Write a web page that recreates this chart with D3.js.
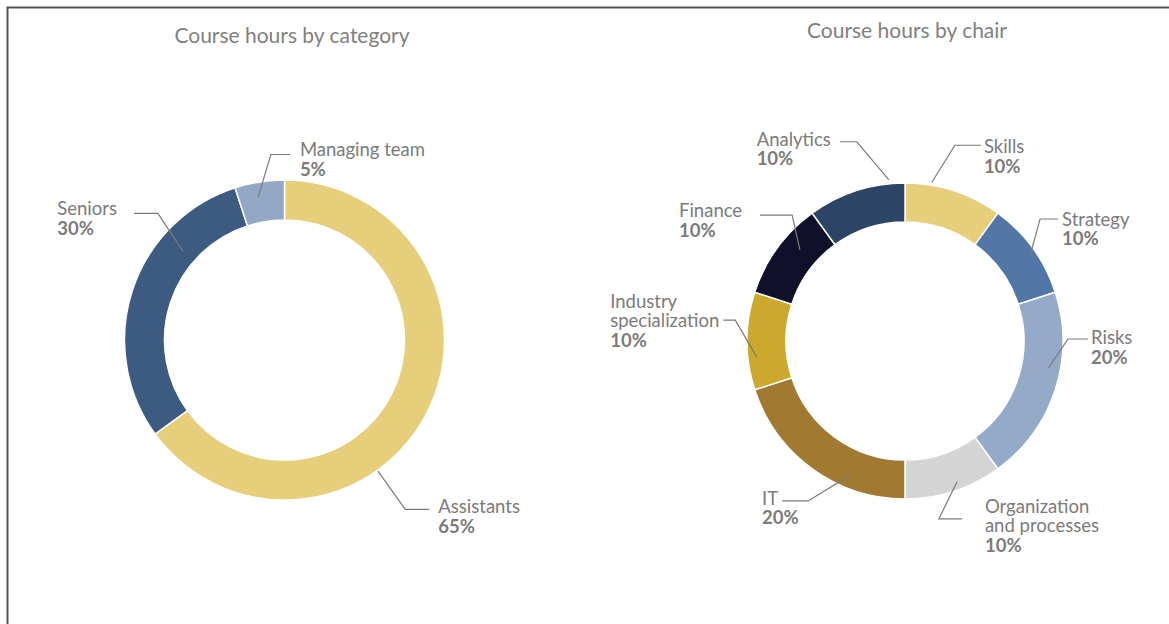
<!DOCTYPE html>
<html>
<head>
<meta charset="utf-8">
<script src="https://cdn.jsdelivr.net/npm/d3@7"></script>
<style>
  body { margin: 0; background: #fff; }
  svg { display: block; font-family: Lato, "Open Sans", sans-serif; }
</style>
</head>
<body>
<svg id="chart" width="1169" height="624"></svg>
<script>
// data
const categoryNames = ["Assistants", "Seniors", "Managing team"];
const categoryShares = [65, 30, 5];
const categoryColors = ["#e6ce7a", "#3d5a80", "#93a8c5"];

const chairNames = ["Skills", "Strategy", "Risks", "Organization\nand processes", "IT",
    "Industry\nspecialization", "Finance", "Analytics"];
const chairShares = [10, 10, 20, 10, 20, 10, 10, 10];
const chairColors = ["#e6ce7a", "#5277a6", "#94aac8", "#d4d4d4", "#a27930",
    "#cca82c", "#10102a", "#2c4566"];

// leader line placement (degrees relative to slice middle, radii in px)
const categoryLabels = [
    {da: 27.5, r0: 161, ea: 27.5, r1: 208, len: 24, gap: 9, dy: 4, attach: 0, side: 1},
    {da: 23.2, r0: 135, ea: 27, r1: 179, len: 24, gap: 17, dy: 2, attach: 0, side: -1},
    {da: -1.5, r0: 145, ea: 4.8, r1: 186, len: 19, gap: 10, dy: 2, attach: 0, side: 1}
];
const chairLabels = [
    {da: -8.4, r0: 161, ea: -3.7, r1: 202, len: 26, gap: 3, dy: 8, attach: 0, side: 1},
    {da: 1.8, r0: 151, ea: -6.1, r1: 182, len: 18, gap: 4, dy: 7, attach: 0, side: 1},
    {da: -7.4, r0: 146, ea: -18.7, r1: 163, len: 20, gap: 3, dy: 5, attach: 0, side: 1},
    {da: -2.3, r0: 150, ea: 7.2, r1: 181, len: 23, gap: 23, dy: -6, attach: 0, side: 1},
    {da: -13.5, r0: 146, ea: -4.8, r1: 187, len: 26, gap: 4, dy: 4, attach: 0, side: -1},
    {da: -6.2, r0: 149, ea: 7, r1: 171, len: 12, gap: 4, dy: 7, attach: 1, side: -1},
    {da: 4.9, r0: 139, ea: 12.1, r1: 169, len: 32, gap: 18, dy: 2, attach: 0, side: -1},
    {da: 12.3, r0: 162, ea: 4.4, r1: 205, len: 17, gap: 9, dy: 4, attach: 0, side: -1}
];

const textColor = "#7b7b7b";
const lineHeight = 19.5;

const svg = d3.select("#chart");

// frame: top and left edges only
svg.append("path")
    .attr("d", "M7.5,624V7.5H1169")
    .attr("fill", "none")
    .attr("stroke", "#555")
    .attr("stroke-width", 2);

function polar(cx, cy, deg, r) {
    const a = deg * Math.PI / 180;
    return [cx + r * Math.sin(a), cy - r * Math.cos(a)];
}

function drawDonut(opts) {
    const {cx, cy, rIn, rOut, names, values, colors, labels, title, titleX, titleY} = opts;
    const g = svg.append("g");

    g.append("text")
        .attr("x", titleX)
        .attr("y", titleY)
        .attr("text-anchor", "middle")
        .attr("font-size", 21)
        .attr("fill", "#808080")
        .text(title);

    const total = d3.sum(values);
    const pie = d3.pie().sort(null).value(d => d);
    const arcs = pie(values);
    const arc = d3.arc().innerRadius(rIn).outerRadius(rOut);

    g.append("g")
        .attr("transform", `translate(${cx},${cy})`)
        .selectAll("path")
        .data(arcs)
        .join("path")
        .attr("d", arc)
        .attr("fill", (d, i) => colors[i])
        .attr("stroke", "#fff")
        .attr("stroke-width", 1.5);

    arcs.forEach((d, i) => {
        const L = labels[i];
        const mid = (d.startAngle + d.endAngle) / 2 * 180 / Math.PI;
        const p0 = polar(cx, cy, mid + L.da, L.r0);
        const p1 = polar(cx, cy, mid + L.ea, L.r1);
        const p2 = [p1[0] + L.side * L.len, p1[1]];

        g.append("path")
            .attr("d", d3.line()([p0, p1, p2]))
            .attr("fill", "none")
            .attr("stroke", "#7a7a7a")
            .attr("stroke-width", 1.2);

        const lines = names[i].split("\n");
        const pct = Math.round(d.value / total * 100) + "%";
        const t = g.append("text")
            .attr("font-size", 18.5)
            .attr("fill", textColor);
        lines.forEach((s, k) => {
            t.append("tspan").attr("x", 0).attr("y", k * lineHeight).text(s);
        });
        t.append("tspan")
            .attr("x", 0)
            .attr("y", lines.length * lineHeight)
            .attr("font-weight", "bold")
            .text(pct);

        const attachW = t.selectAll("tspan").nodes()[L.attach].getComputedTextLength();
        const tx = L.side > 0 ? p2[0] + L.gap : p2[0] - L.gap - attachW;
        const ty = p2[1] + L.dy - L.attach * lineHeight;
        t.attr("transform", `translate(${tx},${ty})`);
    });
}

drawDonut({
    cx: 284.5, cy: 340, rIn: 120, rOut: 160,
    names: categoryNames, values: categoryShares, colors: categoryColors,
    labels: categoryLabels,
    title: "Course hours by category", titleX: 292, titleY: 43
});

drawDonut({
    cx: 905, cy: 341, rIn: 119, rOut: 158,
    names: chairNames, values: chairShares, colors: chairColors,
    labels: chairLabels,
    title: "Course hours by chair", titleX: 907, titleY: 38
});
</script>
</body>
</html>
